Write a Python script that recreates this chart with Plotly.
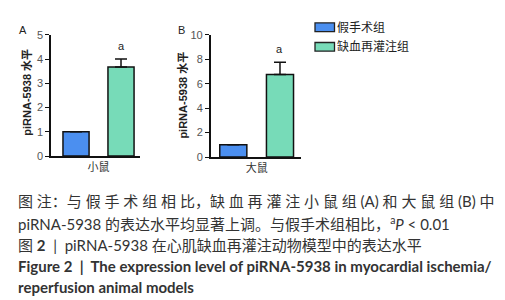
import plotly.graph_objects as go

# ---- data ----
groups = ["假手术组", "缺血再灌注组"]
species = ["小鼠", "大鼠"]
mouse_values = [1.0, 3.67]
mouse_err = [0.0, 0.33]
rat_values = [1.0, 6.75]
rat_err = [0.0, 1.0]
mouse_ticks = [0, 1, 2, 3, 4, 5]
rat_ticks = [0, 2, 4, 6, 8, 10]
sig_label = "a"
panel_labels = ["A", "B"]
y_title = "piRNA-5938 水平"
colors = ["#4b8ff0", "#77dbb8"]

caption_lines = [
    "图 注：与 假 手 术 组 相 比，缺 血 再 灌 注 小 鼠 组 (A) 和 大 鼠 组 (B) 中",
    "piRNA-5938 的表达水平均显著上调。与假手术组相比，<sup>a</sup><i>P</i> &lt; 0.01",
    "图 <b>2</b>  |  piRNA-5938 在心肌缺血再灌注动物模型中的表达水平",
    "<b>Figure 2  |  The expression level of piRNA-5938 in myocardial ischemia/</b>",
    "<b>reperfusion animal models</b>",
]

W, H = 505, 300
def px(x):
    return x / W
def py(y):
    return 1 - y / H

CHART_FONT = "Liberation Sans, Arial, Noto Sans CJK SC"
CAP_FONT = "Lato, Noto Sans CJK SC"

fig = go.Figure()

panels = [
    (mouse_values, mouse_err, "x", "y"),
    (rat_values, rat_err, "x2", "y2"),
]
for vals, errs, xa, ya in panels:
    for i in range(2):
        fig.add_trace(go.Bar(
            x=[i], y=[vals[i]], xaxis=xa, yaxis=ya, width=0.58,
            marker=dict(color=colors[i], line=dict(color="#111", width=1.5)),
            error_y=dict(type="data", symmetric=False, array=[errs[i]],
                         arrayminus=[0], color="#111", thickness=1.5, width=6),
            name=groups[i], showlegend=False,
        ))

axis_common = dict(showline=True, linecolor="#111", linewidth=1.5,
                   showgrid=False, zeroline=False)
fig.update_layout(
    width=W, height=H, margin=dict(l=0, r=0, t=0, b=0),
    paper_bgcolor="white", plot_bgcolor="white", barmode="overlay",
    xaxis=dict(domain=[px(43), px(132)], range=[-0.556, 1.422],
               tickvals=[0.5], ticktext=[species[0]], ticks="",
               tickfont=dict(size=11, color="#333", family=CAP_FONT),
               anchor="y", **axis_common),
    yaxis=dict(domain=[py(148), py(21.7)], range=[0, 5], tickvals=mouse_ticks,
               ticks="outside", ticklen=4, tickwidth=1.2, tickcolor="#111",
               tickfont=dict(size=11, color="#555", family=CHART_FONT),
               anchor="x", **axis_common),
    xaxis2=dict(domain=[px(202.7), px(293)], range=[-0.484, 1.45],
                tickvals=[0.5], ticktext=[species[1]], ticks="",
                tickfont=dict(size=11, color="#333", family=CAP_FONT),
                anchor="y2", **axis_common),
    yaxis2=dict(domain=[py(149), py(21.7)], range=[0, 10], tickvals=rat_ticks,
                ticks="outside", ticklen=4, tickwidth=1.2, tickcolor="#111",
                tickfont=dict(size=11, color="#555", family=CHART_FONT),
                anchor="x2", **axis_common),
)

ann = []
# significance labels
for (vals, errs, xa, ya) in panels:
    ann.append(dict(x=1, y=vals[1] + errs[1], xref=xa, yref=ya, text=sig_label,
                    showarrow=False, xanchor="center", yanchor="bottom", yshift=5,
                    font=dict(size=11, color="#222", family=CHART_FONT)))
# panel letters
for lbl, x in zip(panel_labels, [15, 173]):
    ann.append(dict(x=px(x), y=py(17), xref="paper", yref="paper", text=lbl,
                    xanchor="center", yanchor="middle", showarrow=False,
                    font=dict(size=11, color="#222", family=CHART_FONT)))
# y titles
for x, yc in [(19, 82), (175, 85)]:
    ann.append(dict(x=px(x), y=py(yc), xref="paper", yref="paper",
                    text="<b>" + y_title + "</b>", xanchor="center", yanchor="middle",
                    textangle=-90, showarrow=False,
                    font=dict(size=11, color="#222", family=CHART_FONT)))
# legend (drawn manually)
shapes = []
for i, yc in enumerate([13.8, 34.2]):
    shapes.append(dict(type="rect", xref="paper", yref="paper",
                       x0=px(307), x1=px(326.5), y0=py(yc + 4.5), y1=py(yc - 4.5),
                       fillcolor=colors[i], line=dict(color="#222", width=1.3)))
    ann.append(dict(x=px(327), y=py(yc), xref="paper", yref="paper",
                    text=groups[i], xanchor="left", yanchor="middle", showarrow=False,
                    font=dict(size=12, color="#222", family=CAP_FONT)))
# caption
cap_y = [195, 218, 241, 262, 284]
for t, y in zip(caption_lines, cap_y):
    ann.append(dict(x=px(8), y=py(y), xref="paper", yref="paper", text=t,
                    xanchor="left", yanchor="middle", showarrow=False,
                    font=dict(size=15, color="#333", family=CAP_FONT)))

fig.update_layout(annotations=ann, shapes=shapes)
fig.write_html("out.html")
